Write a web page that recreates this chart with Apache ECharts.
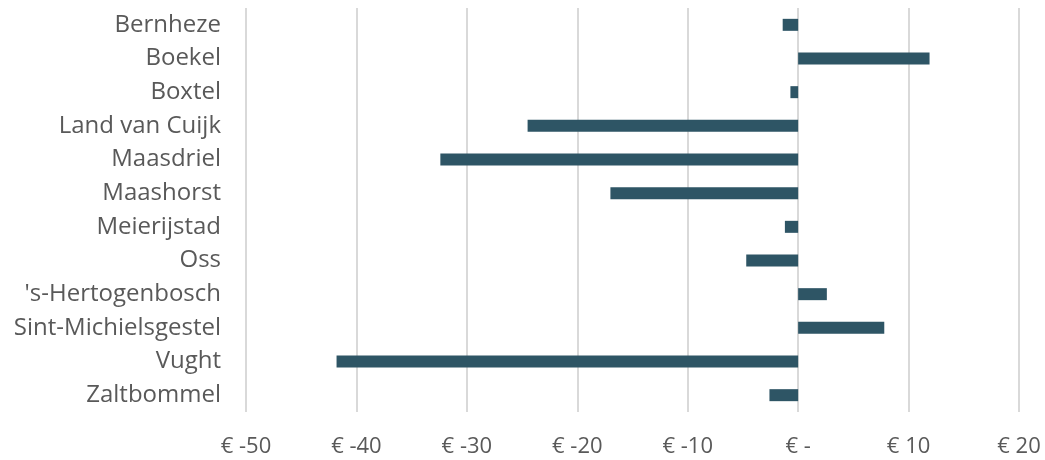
<!DOCTYPE html>
<html>
<head>
<meta charset="utf-8">
<script src="https://cdn.jsdelivr.net/npm/echarts@6/dist/echarts.min.js"></script>
<style>
html,body{margin:0;padding:0;background:#fff;}
#c{width:1045px;height:460px;}
</style>
</head>
<body>
<div id="c"></div>
<script>
const categories = ["Bernheze","Boekel","Boxtel","Land van Cuijk","Maasdriel","Maashorst","Meierijstad","Oss","'s-Hertogenbosch","Sint-Michielsgestel","Vught","Zaltbommel"];
const values = [-1.4, 11.9, -0.7, -24.5, -32.4, -17.0, -1.2, -4.7, 2.6, 7.8, -41.8, -2.6];
const xTicks = [-50, -40, -30, -20, -10, 0, 10, 20];

const chart = echarts.init(document.getElementById('c'));
chart.setOption({
  animation: false,
  grid: {left: 246, right: 26, top: 8, bottom: 48, containLabel: false},
  xAxis: {
    type: 'value', min: xTicks[0], max: xTicks[xTicks.length-1], interval: 10,
    axisLine: {show: false}, axisTick: {show: false},
    splitLine: {show: true, lineStyle: {color: '#D9D9D9', width: 2}},
    axisLabel: {
      color: '#595959', fontFamily: 'Open Sans', fontSize: 22, margin: 24,
      formatter: v => v === 0 ? '€ -' : '€ ' + v
    }
  },
  yAxis: {
    type: 'category', data: categories, inverse: true,
    axisLine: {show: false}, axisTick: {show: false},
    axisLabel: {color: '#595959', fontFamily: 'Open Sans', fontSize: 24, margin: 25}
  },
  series: [{
    type: 'bar', data: values, barWidth: 12,
    itemStyle: {color: '#2E5565'}
  }]
});
</script>
</body>
</html>
